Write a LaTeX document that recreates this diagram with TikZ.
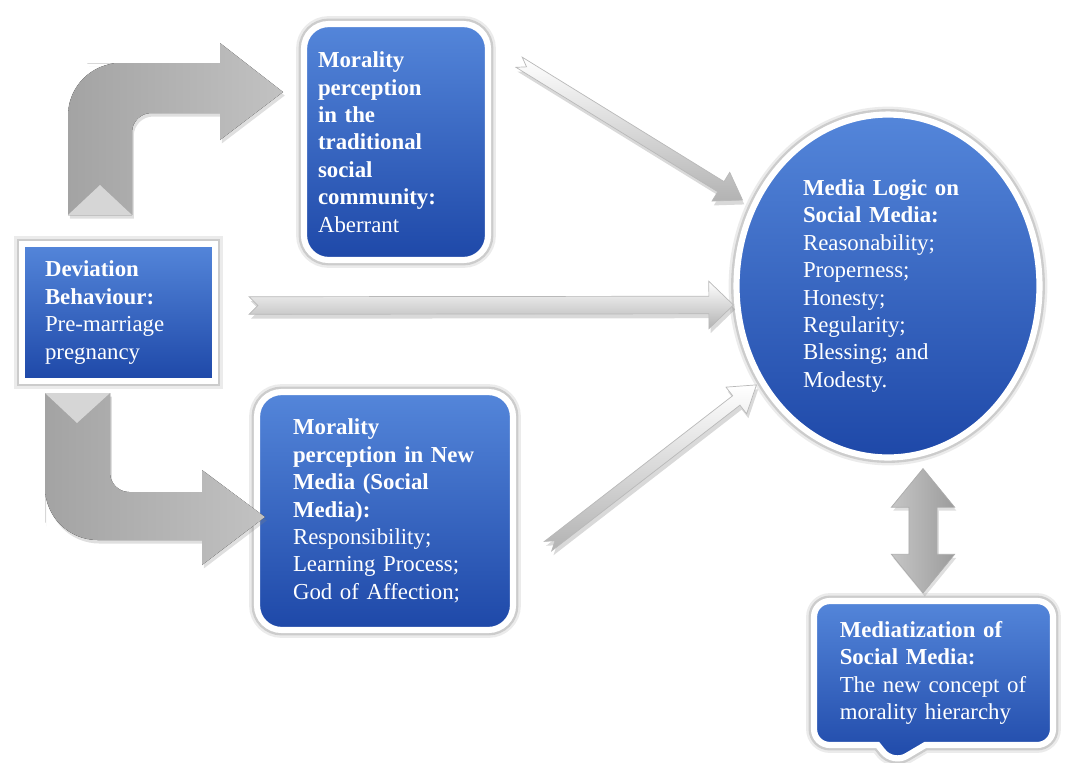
\documentclass[tikz,border=0pt]{standalone}
\usepackage{fontspec}
\setmainfont{Liberation Serif}
\usetikzlibrary{calc, shapes.geometric, shapes.callouts, shadows}
\definecolor{BoxTop}{RGB}{84,134,218}
\definecolor{BoxMid}{RGB}{46,98,198}
\definecolor{BoxBottom}{RGB}{30,72,168}

\begin{document}
\begin{tikzpicture}[x=0.02cm, y=-0.02cm,
    txt/.style={font=\fontsize{13}{15.6}\selectfont, text=white, align=left},
    blk/.style={txt, top color=BoxTop, middle color=BoxMid, bottom color=BoxBottom,
        draw=white, line width=3.5pt,
        drop shadow={shadow xshift=1.5pt, shadow yshift=-2pt, opacity=.2},
        preaction={draw=black!8, line width=9pt},
        preaction={draw=black!20, line width=6.2pt}},
    bent/.style={left color=gray!72, right color=gray!48,
        drop shadow={shadow xshift=1pt, shadow yshift=-2pt, opacity=.25}},
    bevel/.style={fill=gray!32},
    % silver arrow: shaft half width, head half width, head length, tail notch
    silver/.style n args={4}{top color=white, bottom color=gray!60, draw=gray!55, thin,
        drop shadow={shadow xshift=1pt, shadow yshift=-2.5pt, opacity=.3},
        to path={
            ($(\tikztostart)!#1!90:(\tikztotarget)$)
            -- ($(\tikztotarget)!#3!(\tikztostart)!#1!-90:(\tikztostart)$)
            -- ($(\tikztotarget)!#3!(\tikztostart)!#2!-90:(\tikztostart)$)
            -- (\tikztotarget)
            -- ($(\tikztotarget)!#3!(\tikztostart)!#2!90:(\tikztostart)$)
            -- ($(\tikztotarget)!#3!(\tikztostart)!#1!90:(\tikztostart)$)
            -- ($(\tikztostart)!#1!-90:(\tikztotarget)$)
            -- ($(\tikztostart)!#4!(\tikztotarget)$)
            -- cycle}},
    % block arrow with a head at each end
    twoway/.style n args={3}{left color=gray!45, right color=gray!78, draw=gray!65, thin,
        drop shadow={shadow xshift=1pt, shadow yshift=-2pt, opacity=.25},
        to path={
            (\tikztostart)
            -- ($(\tikztostart)!#3!(\tikztotarget)!#2!90:(\tikztotarget)$)
            -- ($(\tikztostart)!#3!(\tikztotarget)!#1!90:(\tikztotarget)$)
            -- ($(\tikztotarget)!#3!(\tikztostart)!#1!-90:(\tikztostart)$)
            -- ($(\tikztotarget)!#3!(\tikztostart)!#2!-90:(\tikztostart)$)
            -- (\tikztotarget)
            -- ($(\tikztotarget)!#3!(\tikztostart)!#2!90:(\tikztostart)$)
            -- ($(\tikztotarget)!#3!(\tikztostart)!#1!90:(\tikztostart)$)
            -- ($(\tikztostart)!#3!(\tikztotarget)!#1!-90:(\tikztotarget)$)
            -- ($(\tikztostart)!#3!(\tikztotarget)!#2!-90:(\tikztotarget)$)
            -- cycle}},
]
\useasboundingbox (0,0) rectangle (1079,762);

% ---- boxes ----
\node[blk, minimum width=3.86cm, minimum height=2.74cm, text width=2.94cm, inner xsep=.46cm]
    (dev) at (118.5,312.5)
    {\textbf{Deviation}\\\textbf{Behaviour:}\\Pre-marriage\\pregnancy};

\node[blk, rounded corners=14pt, minimum width=3.68cm, minimum height=4.72cm,
      text width=3.12cm, inner xsep=.28cm] (trad) at (396,142)
    {\textbf{Morality}\\\textbf{perception}\\\textbf{in the}\\\textbf{traditional}\\
     \textbf{social}\\\textbf{community:}\\Aberrant};

\node[blk, rounded corners=14pt, minimum width=5.12cm, minimum height=4.76cm,
      text width=3.68cm, inner xsep=.72cm] (newm) at (385,511)
    {\textbf{Morality}\\\textbf{perception in New}\\\textbf{Media (Social}\\\textbf{Media):}\\
     Responsibility;\\Learning Process;\\God of Affection;};

\node[blk, ellipse, minimum width=6.06cm, minimum height=6.86cm, text width=3.4cm]
    (logic) at (888,286)
    {\textbf{Media Logic on}\\\textbf{Social Media:}\\Reasonability;\\Properness;\\Honesty;\\
     Regularity;\\Blessing; and\\Modesty.};

\node[blk, rectangle callout, rounded corners=9pt, minimum width=4.78cm, minimum height=2.88cm,
      text width=3.75cm, inner xsep=.515cm, callout absolute pointer={(893,764)},
      callout pointer width=.95cm] (medi) at (933.5,673)
    {\textbf{Mediatization of}\\\textbf{Social Media:}\\The new concept of\\morality hierarchy};

% ---- bent arrows out of the deviation box ----
\fill[bent] (68,215) -- (68,120) [rounded corners=30pt] -- (68,63) -- (140,63) [sharp corners]
    -- (220,63) -- (220,43) -- (283,92) -- (220,140) -- (220,113)
    -- (175,113) [rounded corners=11pt] -- (132,113) -- (132,160) [sharp corners] -- (132,215) -- cycle;
\fill[bevel] (68,215) -- (100,185) -- (132,215) -- cycle;

\fill[bent] (45,393) -- (110,393) -- (110,440) [rounded corners=11pt] -- (110,492) -- (150,492)
    [sharp corners] -- (202,492) -- (202,470) -- (265,517) -- (202,565) -- (202,540)
    -- (120,540) [rounded corners=30pt] -- (45,540) -- (45,470) [sharp corners] -- cycle;
\fill[bevel] (45,393) -- (77,423) -- (110,393) -- cycle;

% ---- silver arrows into media logic ----
\path[silver={3.4pt}{9.6pt}{14.5pt}{5pt}] ($(trad.40)+(28,0)$) to ($(logic.149)+(-9,-4)$);
\path[silver={5pt}{13.5pt}{14pt}{5pt}] ($(dev.east)+(31,-7)$) to ($(logic.west)+(0,19)$);
\path[silver={3.4pt}{9.6pt}{14.5pt}{5pt}] ($(newm.-15)+(32,0)$) to ($(logic.-143)+(-3,2)$);

% ---- two-way link to mediatization ----
\path[twoway={8pt}{18pt}{22pt}] ($(logic.south)+(35,8)$) to ($(medi.north)+(-10.5,-5)$);

\end{tikzpicture}
\end{document}
